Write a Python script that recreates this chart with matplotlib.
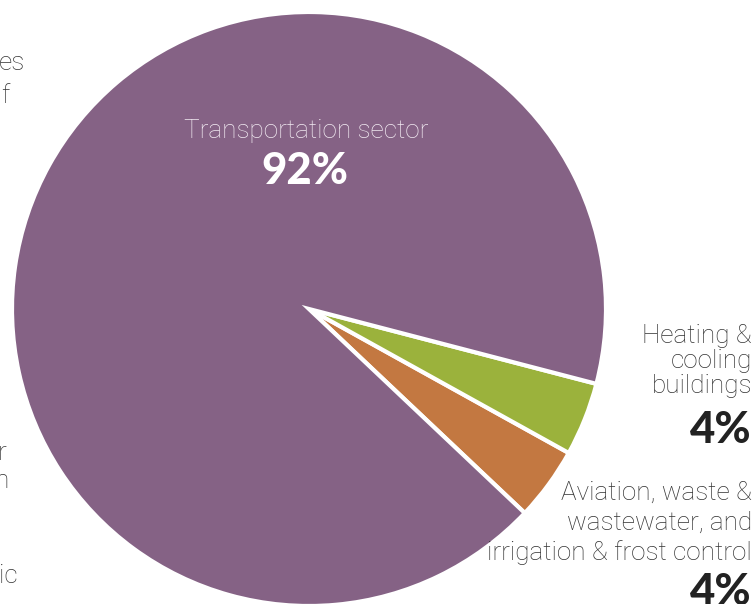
import matplotlib
matplotlib.use("Agg")
import matplotlib.pyplot as plt

categories = ["Aviation, waste & wastewater, and irrigation & frost control",
              "Heating & cooling buildings", "Transportation sector"]
values = [4, 4, 92]
colors = ["#c37841", "#9bb23c", "#856285"]
pct_labels = ["4%", "4%", "92%"]

W, H = 755, 604
fig = plt.figure(figsize=(W / 100, H / 100), dpi=100)
fig.patch.set_facecolor("white")

cx, cy, r = 309, 309, 297
ax = fig.add_axes([(cx - r) / W, (H - cy - r) / H, 2 * r / W, 2 * r / H])
ax.pie(values, colors=colors, startangle=-43.4, counterclock=True,
       radius=1.0, wedgeprops=dict(edgecolor="white", linewidth=3))
ax.set_xlim(-1, 1)
ax.set_ylim(-1, 1)
ax.set_aspect("equal")
ax.axis("off")

light = dict(family=["Roboto", "DejaVu Sans"], fontweight="light")
bold = dict(family=["Lato", "DejaVu Sans"], fontweight="black")

def fx(px):
    return px / W

def fy(py):
    return 1 - py / H

FS = 18.8

# Transportation label
fig.text(fx(306), fy(131), categories[2], color="#f2eaf2", ha="center", va="center",
         fontsize=FS, **light)
fig.text(fx(305), fy(171), pct_labels[2], color="white", ha="center", va="center",
         fontsize=31.5, **bold)

# Heating label
fig.text(fx(752), fy(361), "Heating &\ncooling\nbuildings", color="#333333",
         ha="right", va="center", fontsize=FS, linespacing=1.05, multialignment="right", **light)
fig.text(fx(752), fy(430), pct_labels[1], color="#222222", ha="right", va="center",
         fontsize=31.5, **bold)

# Aviation label
fig.text(fx(752), fy(523), "Aviation, waste &\nwastewater, and\nirrigation & frost control",
         color="#333333", ha="right", va="center", fontsize=FS, linespacing=1.28,
         multialignment="right", **light)
fig.text(fx(752), fy(592), pct_labels[0], color="#222222", ha="right", va="center",
         fontsize=31.5, **bold)

# Clipped fragments of text from outside the chart
frag = dict(color="#333333", ha="right", va="center", fontsize=FS, **light)
fig.text(fx(25), fy(63), "es", **frag)
fig.text(fx(9), fy(96), "f", **frag)
fig.text(fx(6), fy(453), "r", **frag)
fig.text(fx(9), fy(481), "n", **frag)
fig.text(fx(18), fy(576), "ic", **frag)

fig.savefig("out.png", dpi=100, facecolor="white")
